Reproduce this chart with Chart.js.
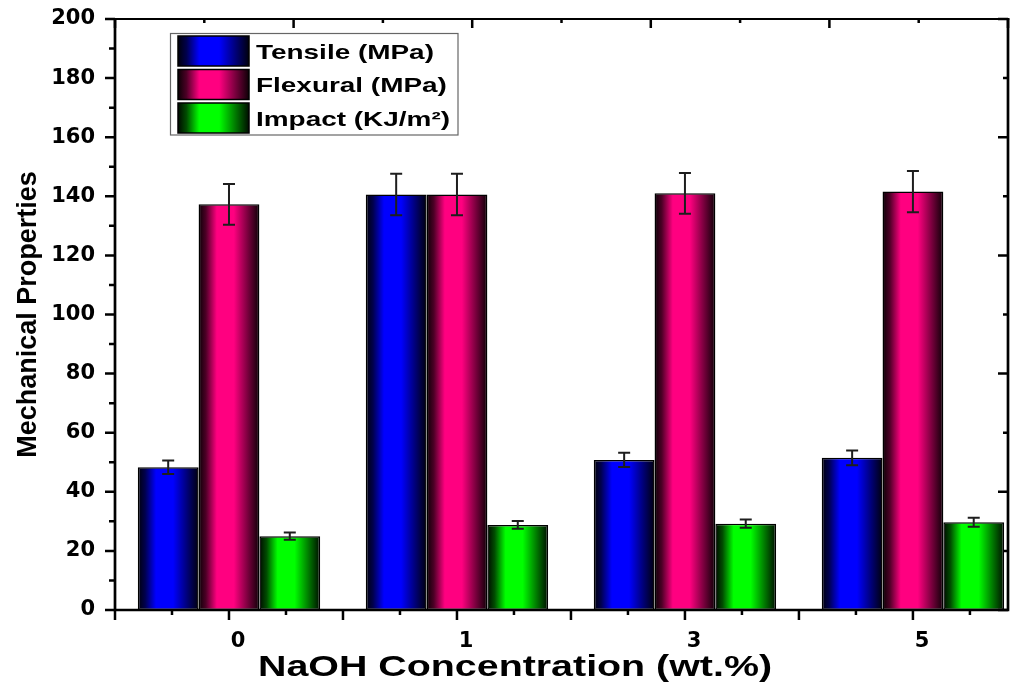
<!DOCTYPE html>
<html><head><meta charset="utf-8">
<script src="https://cdn.jsdelivr.net/npm/chart.js@4"></script>
<style>html,body{margin:0;padding:0;background:#fff}#wrap{width:1013px;height:686px;position:relative}</style>
</head><body><div id="wrap"><canvas id="c"></canvas></div>
<script>
const categories = ['0', '1', '3', '5'];
const tensile = [48.3, 140.6, 50.8, 51.5];
const tensileErr = [2.3, 7.0, 2.4, 2.5];
const flexural = [137.3, 140.6, 141.0, 141.6];
const flexuralErr = [6.9, 7.0, 6.9, 7.0];
const impact = [25.0, 28.8, 29.2, 29.7];
const impactErr = [1.2, 1.3, 1.4, 1.5];
const yTicks = [0, 20, 40, 60, 80, 100, 120, 140, 160, 180, 200];
const seriesLabels = ['Tensile (MPa)', 'Flexural (MPa)', 'Impact (KJ/m²)'];
const seriesRGB = [[0, 0, 255], [255, 0, 128], [0, 255, 0]];
const xTitle = 'NaOH Concentration (wt.%)';
const yTitle = 'Mechanical Properties';

const CAT_PCT = 0.8, BAR_PCT = 1.0;

function shade(rgb, f) {
  return 'rgb(' + rgb.map(v => Math.round(v * f)).join(',') + ')';
}
function makeGrad(ctx, x0, x1, rgb) {
  const g = ctx.createLinearGradient(x0, 0, x1, 0);
  g.addColorStop(0, shade(rgb, 0.04));
  g.addColorStop(0.12, shade(rgb, 0.3));
  g.addColorStop(0.3, shade(rgb, 1));
  g.addColorStop(0.58, shade(rgb, 1));
  g.addColorStop(0.82, shade(rgb, 0.45));
  g.addColorStop(1, shade(rgb, 0.05));
  return g;
}
function barFill(c) {
  const rgb = seriesRGB[c.datasetIndex];
  const chart = c.chart;
  const xs = chart.scales && chart.scales.x;
  if (c.type !== 'data' || !xs || !chart.chartArea) return shade(rgb, 1);
  const n = chart.data.datasets.length;
  const step = xs.getPixelForValue(1) - xs.getPixelForValue(0);
  const bw = step * CAT_PCT / n * BAR_PCT;
  const cx = xs.getPixelForValue(c.dataIndex) + (c.datasetIndex - (n - 1) / 2) * bw;
  return makeGrad(chart.ctx, cx - bw / 2, cx + bw / 2, rgb);
}

const seriesValues = [tensile, flexural, impact];
const seriesErrors = [tensileErr, flexuralErr, impactErr];

const datasets = seriesLabels.map((lab, k) => ({
  label: lab,
  data: seriesValues[k].map((v, i) => ({ x: i, y: v })),
  errors: seriesErrors[k],
  backgroundColor: barFill,
  borderColor: '#000',
  borderWidth: 1.5,
  borderSkipped: false,
  categoryPercentage: CAT_PCT,
  barPercentage: BAR_PCT
}));

const errorBars = {
  id: 'errorBars',
  afterDatasetsDraw(chart) {
    const ctx = chart.ctx, ys = chart.scales.y;
    ctx.save();
    ctx.strokeStyle = '#1e1e1e';
    ctx.lineWidth = 2;
    chart.data.datasets.forEach((ds, di) => {
      const meta = chart.getDatasetMeta(di);
      meta.data.forEach((el, j) => {
        const v = ds.data[j].y, e = ds.errors[j];
        const yt = ys.getPixelForValue(v + e), yb = ys.getPixelForValue(v - e);
        const x = el.x;
        ctx.beginPath();
        ctx.moveTo(x, yt); ctx.lineTo(x, yb);
        ctx.moveTo(x - 6, yt); ctx.lineTo(x + 6, yt);
        ctx.moveTo(x - 6, yb); ctx.lineTo(x + 6, yb);
        ctx.stroke();
      });
    });
    ctx.restore();
  }
};

const frame = {
  id: 'frame',
  afterDraw(chart) {
    const ctx = chart.ctx, a = chart.chartArea, xs = chart.scales.x, ys = chart.scales.y;
    ctx.save();
    ctx.strokeStyle = '#000';
    ctx.lineCap = 'butt';
    ctx.lineWidth = 2.5;
    ctx.beginPath();
    for (let v = 0; v <= 200; v += 10) {
      const y = ys.getPixelForValue(v);
      const len = v % 20 === 0 ? 10 : 6;
      ctx.moveTo(a.left, y); ctx.lineTo(a.left - len, y);
    }
    for (let v = 0; v <= 200; v += 20) {
      const y = ys.getPixelForValue(v);
      const len = v % 40 === 0 ? 10 : 5;
      ctx.moveTo(a.right, y); ctx.lineTo(a.right - len, y);
    }
    for (let k = 0; k * 0.25 - 0.5 <= xs.max; k++) {
      const v = -0.5 + k * 0.25;
      const x = xs.getPixelForValue(v);
      const len = k % 2 === 0 ? 10 : 5;
      ctx.moveTo(x, a.bottom); ctx.lineTo(x, a.bottom + len);
    }
    for (let k = 0; k <= 10; k++) {
      const x = a.left + (a.right - a.left) * k / 10;
      const len = k % 2 === 0 ? 9 : 4;
      ctx.moveTo(x, a.top); ctx.lineTo(x, a.top + len);
    }
    ctx.stroke();
    ctx.lineWidth = 2.7;
    ctx.beginPath();
    ctx.moveTo(a.left, a.top - 1); ctx.lineTo(a.left, a.bottom + 1.3);
    ctx.moveTo(a.left - 1.3, a.bottom); ctx.lineTo(a.right + 1.3, a.bottom);
    ctx.moveTo(a.right, a.bottom); ctx.lineTo(a.right, a.top - 1);
    ctx.stroke();
    ctx.lineWidth = 2;
    ctx.beginPath();
    ctx.moveTo(a.left - 1.3, a.top); ctx.lineTo(a.right + 1.3, a.top);
    ctx.stroke();

    ctx.fillStyle = '#000';
    ctx.font = 'bold 30px "Liberation Sans", Arial, sans-serif';
    ctx.textAlign = 'center';
    ctx.textBaseline = 'alphabetic';
    const w = ctx.measureText(xTitle).width;
    ctx.save();
    ctx.translate(515, 676);
    ctx.scale(514 / w, 1);
    ctx.fillText(xTitle, 0, 0);
    ctx.restore();

    ctx.lineWidth = 1.2;
    ctx.strokeStyle = '#666';
    ctx.strokeRect(170.5, 33.5, 287.5, 101.5);
    chart.data.datasets.forEach((ds, i) => {
      const y0 = 36 + i * 33.5;
      ctx.fillStyle = makeGrad(ctx, 178, 249, seriesRGB[i]);
      ctx.fillRect(178, y0, 71, 30);
      ctx.lineWidth = 1.5;
      ctx.strokeStyle = '#000';
      ctx.strokeRect(178, y0, 71, 30);
      ctx.fillStyle = '#000';
      ctx.font = 'bold 21px "Liberation Sans", Arial, sans-serif';
      ctx.textAlign = 'left';
      ctx.textBaseline = 'alphabetic';
      ctx.save();
      ctx.translate(256, y0 + 15 + 7.5);
      ctx.scale(1.33, 1);
      ctx.fillText(ds.label, 0, 0);
      ctx.restore();
    });
    ctx.restore();
  }
};

const tickFont = { family: 'DejaVu Sans', weight: 'bold', size: 21 };

new Chart(document.getElementById('c'), {
  type: 'bar',
  data: { datasets },
  options: {
    responsive: true,
    maintainAspectRatio: false,
    animation: false,
    devicePixelRatio: 1,
    layout: { padding: { top: 19, right: 5, left: 0, bottom: 0 } },
    plugins: { legend: { display: false }, tooltip: { enabled: false } },
    scales: {
      x: {
        type: 'linear',
        offset: false,
        min: -0.5,
        max: 3.417,
        grid: { display: false, drawTicks: false, tickLength: 0, offset: false },
        border: { display: false },
        afterBuildTicks: s => { s.ticks = categories.map((c, i) => ({ value: i })); },
        ticks: {
          callback: v => categories[v],
          font: tickFont, color: '#000', padding: 19, labelOffset: 9,
          maxRotation: 0, autoSkip: false
        },
        afterFit: s => { s.height = 76; s.paddingLeft = 0; s.paddingRight = 0; }
      },
      y: {
        min: 0, max: 200,
        grid: { display: false, drawTicks: false, tickLength: 0 },
        border: { display: false },
        afterBuildTicks: s => { s.ticks = yTicks.map(v => ({ value: v })); },
        ticks: { font: tickFont, color: '#000', padding: 20 },
        title: {
          display: true, text: yTitle, color: '#000',
          font: { family: 'Liberation Sans', weight: 'bold', size: 27 },
          padding: { top: 12, bottom: 0 }
        },
        afterFit: s => { s.width = 115; s.paddingTop = 0; s.paddingBottom = 0; }
      }
    }
  },
  plugins: [errorBars, frame]
});
</script>
</body></html>
